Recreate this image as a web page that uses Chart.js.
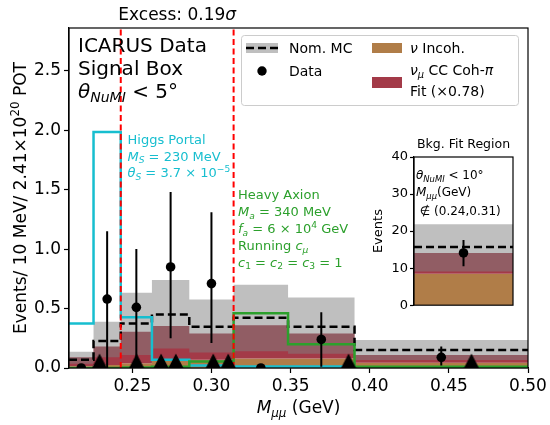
<!DOCTYPE html>
<html>
<head>
<meta charset="utf-8">
<script src="https://cdn.jsdelivr.net/npm/chart.js@4.4.1/dist/chart.umd.min.js"></script>
<style>
  html, body { margin: 0; padding: 0; background: #fff; }
  #wrap { position: relative; width: 550px; height: 425px; }
  #main { position: absolute; left: 0; top: 0; }
  #inset { position: absolute; left: 360px; top: 130px; }
</style>
</head>
<body>
<div id="wrap">
  <canvas id="main" width="550" height="425"></canvas>
  <canvas id="inset" width="165" height="185"></canvas>
</div>
<script>
// bins in M_mumu (GeV), values in events / 10 MeV
const binEdges = [0.21, 0.2255, 0.2427, 0.2624, 0.2860, 0.3140, 0.3484, 0.3904, 0.50];
const incohVals = [0.015, 0.025, 0.04, 0.065, 0.07, 0.08, 0.08, 0.045];
const cohTopVals = [0.09, 0.18, 0.305, 0.353, 0.29, 0.36, 0.29, 0.109];
const mcVals = [0.07, 0.227, 0.375, 0.45, 0.347, 0.423, 0.347, 0.151];
const mcBandLo = [0.035, 0.09, 0.11, 0.165, 0.13, 0.14, 0.12, 0.067];
const mcBandHi = [0.137, 0.39, 0.633, 0.74, 0.577, 0.70, 0.594, 0.235];
const higgsVals = [0.375, 1.985, 0.426, 0.07, 0.02, 0.012, 0.012, 0.0];
const axionVals = [0.0, 0.0, 0.005, 0.01, 0.055, 0.46, 0.20, 0.01];
const dataVals = [0, 0.58, 0.51, 0.85, 0.71, 0, 0.24, 0.09];
const dataErrLo = [null, 0, 0, 0.25, 0.21, null, 0.01, 0.02];
const dataErrHi = [null, 1.15, 1.0, 1.48, 1.31, null, 0.47, 0.18];
const eventMasses = [0.2293, 0.2527, 0.2682, 0.2775, 0.3011, 0.3106, 0.3866, 0.4643];
const fitEdges = [0.2427, 0.3140];
const xTicks = [0.25, 0.30, 0.35, 0.40, 0.45, 0.50];
const yTicks = [0, 0.5, 1.0, 1.5, 2.0, 2.5];
const xMin = 0.21, xMax = 0.50, yMax = 2.86;

// inset: background fit region, one bin
const insetEdges = [0, 1];
const insetIncoh = [8.5];
const insetCohTop = [14.1];
const insetMC = [15.7];
const insetBandLo = [9.1];
const insetBandHi = [21.85];
const insetData = [14.1];
const insetErrLo = [10.5];
const insetErrHi = [17.6];
const insetTicks = [0, 10, 20, 30, 40];

const cIncoh = '#b07d48';
const cCoh = '#a33a48';
const cBand = 'rgba(128,128,128,0.5)';
const cHiggs = '#17becf';
const cAxion = '#2ca02c';
const FAM = '"DejaVu Sans", "Liberation Sans", sans-serif';

function stepPts(vals, edges) {
  return vals.flatMap((v, i) => [{x: edges[i], y: v}, {x: edges[i + 1], y: v}]);
}
function centers(edges) {
  return edges.slice(0, -1).map((e, i) => (e + edges[i + 1]) / 2);
}
function errPts(xs, lo, hi) {
  const pts = [];
  xs.forEach((x, i) => {
    if (lo[i] == null) return;
    pts.push({x: x, y: lo[i]}, {x: x, y: hi[i]}, {x: x, y: null});
  });
  return pts;
}

// mathtext-ish text: style '' normal, 'i' italic, 'b' subscript, 'p' superscript
function fontFor(st, size) {
  const small = st.indexOf('b') >= 0 || st.indexOf('p') >= 0;
  return (st.indexOf('i') >= 0 ? 'italic ' : '') + (small ? size * 0.7 : size) + 'px ' + FAM;
}
function drawRich(ctx, parts, x, y, size, color, align) {
  let w = 0;
  parts.forEach(([t, st]) => { ctx.font = fontFor(st, size); w += ctx.measureText(t).width; });
  let cx = align === 'center' ? x - w / 2 : (align === 'right' ? x - w : x);
  ctx.fillStyle = color;
  ctx.textAlign = 'left';
  ctx.textBaseline = 'alphabetic';
  parts.forEach(([t, st]) => {
    ctx.font = fontFor(st, size);
    const dy = st.indexOf('b') >= 0 ? size * 0.22 : (st.indexOf('p') >= 0 ? -size * 0.42 : 0);
    ctx.fillText(t, cx, y + dy);
    cx += ctx.measureText(t).width;
  });
}

// triangle marker whose base sits on the point (so y=0 rests on the axis)
const triMarker = document.createElement('canvas');
triMarker.width = 16; triMarker.height = 30;
(function () {
  const c = triMarker.getContext('2d');
  c.fillStyle = '#000';
  c.beginPath(); c.moveTo(8, 0.5); c.lineTo(15.5, 15); c.lineTo(0.5, 15); c.closePath(); c.fill();
})();

const mainText = {
  id: 'mainText',
  afterDraw(chart) {
    const {ctx, chartArea: a, scales: {x, y}} = chart;
    ctx.save();
    ctx.strokeStyle = '#000'; ctx.lineWidth = 1.2;
    ctx.strokeRect(a.left, a.top, a.right - a.left, a.bottom - a.top);

    const tx = (x.getPixelForValue(fitEdges[0]) + x.getPixelForValue(fitEdges[1])) / 2;
    drawRich(ctx, [['Excess: 0.19', ''], ['σ', 'i']], tx, 20, 17, '#000', 'center');
    drawRich(ctx, [['M', 'i'], ['μμ', 'ib'], [' (GeV)', '']], (a.left + a.right) / 2, 413, 17, '#000', 'center');
    ctx.save();
    ctx.translate(26, (a.top + a.bottom) / 2);
    ctx.rotate(-Math.PI / 2);
    drawRich(ctx, [['Events/ 10 MeV/ 2.41×10', ''], ['20', 'p'], [' POT', '']], 0, 0, 17, '#000', 'center');
    ctx.restore();

    // box label
    drawRich(ctx, [['ICARUS Data', '']], 78, 52, 20, '#000');
    drawRich(ctx, [['Signal Box', '']], 78, 75, 20, '#000');
    drawRich(ctx, [['θ', 'i'], ['NuMI', 'ib'], [' < 5°', '']], 78, 98, 20, '#000');

    // signal labels
    const hx = 127.5;
    drawRich(ctx, [['Higgs Portal', '']], hx, 144, 13, cHiggs);
    drawRich(ctx, [['M', 'i'], ['S', 'ib'], [' = 230 MeV', '']], hx, 160.5, 13, cHiggs);
    drawRich(ctx, [['θ', 'i'], ['S', 'ib'], [' = 3.7 × 10', ''], ['−5', 'p']], hx, 177, 13, cHiggs);
    const gx = 238;
    drawRich(ctx, [['Heavy Axion', '']], gx, 199, 13, cAxion);
    drawRich(ctx, [['M', 'i'], ['a', 'ib'], [' = 340 MeV', '']], gx, 216, 13, cAxion);
    drawRich(ctx, [['f', 'i'], ['a', 'ib'], [' = 6 × 10', ''], ['4', 'p'], [' GeV', '']], gx, 233, 13, cAxion);
    drawRich(ctx, [['Running ', ''], ['c', 'i'], ['μ', 'ib']], gx, 250, 13, cAxion);
    drawRich(ctx, [['c', 'i'], ['1', 'b'], [' = ', ''], ['c', 'i'], ['2', 'b'], [' = ', ''], ['c', 'i'], ['3', 'b'], [' = 1', '']], gx, 266.5, 13, cAxion);

    // legend
    ctx.fillStyle = 'rgba(255,255,255,0.8)';
    ctx.strokeStyle = '#cccccc'; ctx.lineWidth = 1;
    ctx.beginPath(); ctx.roundRect(241.5, 35.5, 277, 70, 3); ctx.fill(); ctx.stroke();
    ctx.fillStyle = cBand; ctx.fillRect(246, 43, 32, 10);
    ctx.strokeStyle = '#000'; ctx.lineWidth = 2.5; ctx.setLineDash([8, 4]);
    ctx.beginPath(); ctx.moveTo(246, 48); ctx.lineTo(278, 48); ctx.stroke();
    ctx.setLineDash([]);
    ctx.fillStyle = '#000';
    ctx.beginPath(); ctx.arc(262, 71, 4.7, 0, Math.PI * 2); ctx.fill();
    drawRich(ctx, [['Nom. MC', '']], 289, 53, 14, '#000');
    drawRich(ctx, [['Data', '']], 289, 76, 14, '#000');
    ctx.fillStyle = cIncoh; ctx.fillRect(372, 43, 30, 10);
    ctx.fillStyle = cCoh; ctx.fillRect(372, 77, 30, 11);
    drawRich(ctx, [['ν', 'i'], [' Incoh.', '']], 410, 53, 14, '#000');
    drawRich(ctx, [['ν', 'i'], ['μ', 'ib'], [' CC Coh-', ''], ['π', 'i']], 410, 75, 14, '#000');
    drawRich(ctx, [['Fit (×0.78)', '']], 410, 96, 14, '#000');
    ctx.restore();
  }
};

const mainCenters = centers(binEdges);
const noPts = {pointRadius: 0, pointHoverRadius: 0};

new Chart(document.getElementById('main'), {
  type: 'line',
  data: {
    datasets: [
      {data: stepPts(incohVals, binEdges), backgroundColor: cIncoh, borderWidth: 0, fill: 'origin', order: 20, ...noPts},
      {data: stepPts(cohTopVals, binEdges), backgroundColor: cCoh, borderWidth: 0, fill: 0, order: 19, ...noPts},
      {data: stepPts(mcBandLo, binEdges), borderWidth: 0, fill: false, order: 18, ...noPts},
      {data: stepPts(mcBandHi, binEdges), backgroundColor: cBand, borderWidth: 0, fill: 2, order: 17, ...noPts},
      {data: stepPts(mcVals, binEdges), borderColor: '#000', borderWidth: 2.5, borderDash: [8, 4], fill: false, order: 16, ...noPts},
      {data: stepPts(higgsVals, binEdges), borderColor: cHiggs, borderWidth: 2.5, fill: false, order: 15, ...noPts},
      {data: stepPts(axionVals, binEdges), borderColor: cAxion, borderWidth: 2.5, fill: false, order: 14, ...noPts},
      {data: fitEdges.flatMap(e => [{x: e, y: 0}, {x: e, y: yMax}, {x: e, y: null}]),
        borderColor: '#ff0000', borderWidth: 2, borderDash: [6, 3.5], fill: false, spanGaps: false, order: 13, ...noPts},
      {data: errPts(mainCenters, dataErrLo, dataErrHi), borderColor: '#000', borderWidth: 2, fill: false, spanGaps: false, order: 12, ...noPts},
      {data: mainCenters.map((c, i) => ({x: c, y: dataVals[i]})), showLine: false, pointRadius: 4.8,
        pointBackgroundColor: '#000', pointBorderWidth: 0, clip: 0, order: 11},
      {data: eventMasses.map(m => ({x: m, y: 0})), showLine: false, pointRadius: 8, pointStyle: triMarker, clip: false, order: 10}
    ]
  },
  options: {
    responsive: false,
    animation: false,
    layout: {padding: {left: 0, right: 22, top: 28, bottom: 0}},
    plugins: {legend: {display: false}, tooltip: {enabled: false}},
    scales: {
      x: {
        type: 'linear', min: xMin, max: xMax,
        afterBuildTicks: s => { s.ticks = xTicks.map(v => ({value: v})); },
        afterFit: s => { s.height = 57; },
        ticks: {font: {family: FAM, size: 17}, color: '#000', padding: 3, maxRotation: 0, autoSkip: false,
          callback: v => Number(v).toFixed(2)},
        grid: {drawOnChartArea: false, drawTicks: true, tickLength: 5, color: '#000', tickWidth: 1.2},
        border: {display: true, color: '#000', width: 1.2}
      },
      y: {
        type: 'linear', min: 0, max: yMax,
        afterBuildTicks: s => { s.ticks = yTicks.map(v => ({value: v})); },
        afterFit: s => { s.width = 69; },
        ticks: {font: {family: FAM, size: 17}, color: '#000', padding: 3, autoSkip: false,
          callback: v => Number(v).toFixed(1)},
        grid: {drawOnChartArea: false, drawTicks: true, tickLength: 5, color: '#000', tickWidth: 1.2},
        border: {display: true, color: '#000', width: 1.2}
      }
    }
  },
  plugins: [mainText]
});

const insetText = {
  id: 'insetText',
  beforeDraw(chart) {
    const {ctx, chartArea: a} = chart;
    ctx.save();
    ctx.fillStyle = '#fff';
    ctx.fillRect(a.left, a.top, a.right - a.left, a.bottom - a.top);
    ctx.restore();
  },
  afterDraw(chart) {
    const {ctx, chartArea: a} = chart;
    ctx.save();
    ctx.strokeStyle = '#000'; ctx.lineWidth = 1.2;
    ctx.strokeRect(a.left, a.top, a.right - a.left, a.bottom - a.top);
    drawRich(ctx, [['Bkg. Fit Region', '']], (a.left + a.right) / 2, 18, 12.5, '#000', 'center');
    ctx.save();
    ctx.translate(21.5, (a.top + a.bottom) / 2);
    ctx.rotate(-Math.PI / 2);
    drawRich(ctx, [['Events', '']], 0, 0, 13, '#000', 'center');
    ctx.restore();
    drawRich(ctx, [['θ', 'i'], ['NuMI', 'ib'], [' < 10°', '']], a.left + 2, 49, 12, '#000');
    drawRich(ctx, [['M', 'i'], ['μμ', 'ib'], ['(GeV)', '']], a.left + 2, 66, 12, '#000');
    drawRich(ctx, [[' ∉ (0.24,0.31)', '']], a.left + 2, 85, 12, '#000');
    ctx.restore();
  }
};

const insetCenters = centers(insetEdges);

new Chart(document.getElementById('inset'), {
  type: 'line',
  data: {
    datasets: [
      {data: stepPts(insetIncoh, insetEdges), backgroundColor: cIncoh, borderWidth: 0, fill: 'origin', order: 20, ...noPts},
      {data: stepPts(insetCohTop, insetEdges), backgroundColor: cCoh, borderWidth: 0, fill: 0, order: 19, ...noPts},
      {data: stepPts(insetBandLo, insetEdges), borderWidth: 0, fill: false, order: 18, ...noPts},
      {data: stepPts(insetBandHi, insetEdges), backgroundColor: cBand, borderWidth: 0, fill: 2, order: 17, ...noPts},
      {data: stepPts(insetMC, insetEdges), borderColor: '#000', borderWidth: 2.5, borderDash: [8, 4], fill: false, order: 16, ...noPts},
      {data: errPts(insetCenters, insetErrLo, insetErrHi), borderColor: '#000', borderWidth: 2, fill: false, spanGaps: false, order: 12, ...noPts},
      {data: insetCenters.map((c, i) => ({x: c, y: insetData[i]})), showLine: false, pointRadius: 4.8,
        pointBackgroundColor: '#000', pointBorderWidth: 0, order: 11}
    ]
  },
  options: {
    responsive: false,
    animation: false,
    layout: {padding: {left: 0, right: 12, top: 27, bottom: 9}},
    plugins: {legend: {display: false}, tooltip: {enabled: false}},
    scales: {
      x: {type: 'linear', min: 0, max: 1, display: false},
      y: {
        type: 'linear', min: 0, max: 40,
        afterBuildTicks: s => { s.ticks = insetTicks.map(v => ({value: v})); },
        afterFit: s => { s.width = 54; },
        ticks: {font: {family: FAM, size: 13}, color: '#000', padding: 2, autoSkip: false},
        grid: {drawOnChartArea: false, drawTicks: true, tickLength: 4, color: '#000', tickWidth: 1.2},
        border: {display: true, color: '#000', width: 1.2}
      }
    }
  },
  plugins: [insetText]
});
</script>
</body>
</html>
